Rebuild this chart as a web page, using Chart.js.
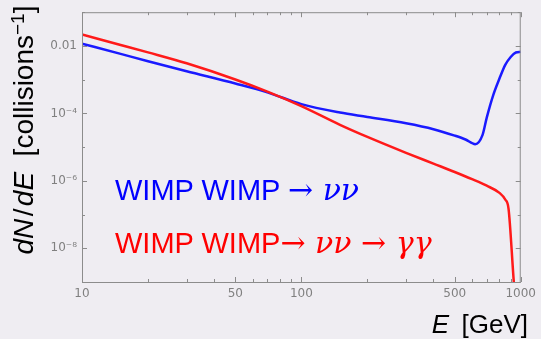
<!DOCTYPE html>
<html>
<head>
<meta charset="utf-8">
<script src="https://cdn.jsdelivr.net/npm/chart.js@4.4.0/dist/chart.umd.min.js"></script>
<style>
    html, body { margin: 0; padding: 0; background: #efedf2; }
    #wrap { position: relative; width: 541px; height: 339px; overflow: hidden; }
    #chart { position: absolute; left: 0; top: 0; }
    .txt { position: absolute; white-space: nowrap; font-family: "Liberation Sans", Arial, sans-serif; }
    .math { font-family: "DejaVu Serif", serif; font-size: 30px; }
    .math i { font-style: italic; }
    #ytitle {
        left: 24px; top: 130px; width: 300px; height: 40px; line-height: 40px;
        margin-left: -150px; margin-top: -20px; text-align: center;
        transform: rotate(-90deg); font-size: 28px; color: #000;
    }
    #ytitle sup { font-size: 19px; vertical-align: 0.5em; line-height: 0; }
    #xtitle { right: 13px; top: 307px; font-size: 26px; color: #000; line-height: 34px; }
    #lblBlue { left: 115px; top: 175px; font-size: 29px; line-height: 29px; color: #0000ff; }
    #lblRed { left: 115px; top: 228px; font-size: 29px; line-height: 29px; color: #ff0000; }
</style>
</head>
<body>
<div id="wrap">
    <canvas id="chart" width="541" height="339"></canvas>
    <div class="txt" id="ytitle"><i>dN</i>&#8202;/&#8202;<i>dE</i>&nbsp;&nbsp;[collisions<sup>−1</sup>]</div>
    <div class="txt" id="xtitle"><i>E</i>&nbsp;&#8201;[GeV]</div>
    <div class="txt" id="lblBlue">WIMP WIMP <span class="math">→ <i>νν</i></span></div>
    <div class="txt" id="lblRed">WIMP WIMP<span class="math">→ <i>νν</i> → <i>γγ</i></span></div>
</div>
<script>
// ===== Dados =====
const blueEnergies = [10, 15, 20, 30, 50, 70, 100, 150, 200, 300, 400, 500, 560, 620, 670, 700, 750, 800, 850, 900, 950, 1000];
const blueValues = [1.17e-2, 5.81e-3, 3.53e-3, 1.78e-3, 7.69e-4, 4.21e-4, 1.88e-4, 1.06e-4, 7.85e-5, 5.08e-5, 3.40e-5, 2.19e-5, 1.68e-5, 1.22e-5, 2.31e-5, 7.5e-5, 3.55e-4, 1.08e-3, 2.75e-3, 4.71e-3, 6.38e-3, 6.68e-3];

const redEnergies = [10, 15, 20, 30, 50, 70, 100, 150, 200, 300, 400, 500, 600, 700, 800, 850, 880, 930, 960];
const redValues = [2.18e-2, 1.07e-2, 6.43e-3, 3.05e-3, 1.01e-3, 4.41e-4, 1.64e-4, 4.59e-5, 2.01e-5, 6.78e-6, 3.24e-6, 1.83e-6, 1.12e-6, 7.15e-7, 4.38e-7, 2.79e-7, 1.48e-7, 1e-9, 9e-11];

// ===== Ticks =====
const xTicks = [10, 20, 30, 40, 50, 60, 70, 80, 90, 100, 200, 300, 400, 500, 600, 700, 800, 900, 1000];
const xLabels = [10, 50, 100, 500, 1000];
const yTicks = [1e-9, 1e-8, 1e-7, 1e-6, 1e-5, 1e-4, 1e-3, 1e-2, 1e-1];
const yLabels = { '-2': '0.01', '-4': '10⁻⁴', '-6': '10⁻⁶', '-8': '10⁻⁸' };

const BG = '#efedf2';
const FRAME = '#8c8c8c';

function toPoints(xs, ys) {
    return xs.map((x, i) => ({ x: x, y: ys[i] }));
}

// ===== Plugin: fundo, moldura e ticks para dentro =====
const framePlugin = {
    id: 'frame',
    beforeDraw(chart) {
        const ctx = chart.ctx;
        ctx.save();
        ctx.fillStyle = BG;
        ctx.fillRect(0, 0, chart.width, chart.height);
        ctx.restore();
    },
    afterDatasetsDraw(chart) {
        const { ctx, chartArea: a, scales } = chart;
        ctx.save();
        ctx.strokeStyle = FRAME;
        ctx.lineWidth = 1;
        ctx.strokeRect(a.left + 0.5, a.top + 0.5, a.right - a.left - 1, a.bottom - a.top);
        ctx.beginPath();
        xTicks.forEach(v => {
            const px = Math.round(scales.x.getPixelForValue(v)) + 0.5;
            const len = xLabels.includes(v) ? 5 : 3;
            ctx.moveTo(px, a.bottom); ctx.lineTo(px, a.bottom - len);
            ctx.moveTo(px, a.top); ctx.lineTo(px, a.top + len);
        });
        yTicks.forEach(v => {
            const py = Math.round(scales.y.getPixelForValue(v)) + 0.5;
            const e = Math.round(Math.log10(v));
            const len = yLabels[e] ? 5 : 3;
            ctx.moveTo(a.left, py); ctx.lineTo(a.left + len, py);
            ctx.moveTo(a.right, py); ctx.lineTo(a.right - len, py);
        });
        ctx.stroke();
        ctx.restore();
    }
};

// ===== Gerar Gráfico =====
const ctx = document.getElementById('chart').getContext('2d');
new Chart(ctx, {
    type: 'line',
    data: {
        datasets: [
            {
                data: toPoints(redEnergies, redValues),
                borderColor: '#ff1a1a',
                borderWidth: 2.5,
                pointRadius: 0,
                cubicInterpolationMode: 'monotone',
                fill: false
            },
            {
                data: toPoints(blueEnergies, blueValues),
                borderColor: '#1a1aff',
                borderWidth: 2.5,
                pointRadius: 0,
                cubicInterpolationMode: 'monotone',
                fill: false
            }
        ]
    },
    options: {
        responsive: false,
        animation: false,
        layout: { padding: { top: 8, right: 17, left: 0, bottom: 0 } },
        plugins: {
            legend: { display: false },
            tooltip: { enabled: false }
        },
        scales: {
            x: {
                type: 'logarithmic',
                min: 10,
                max: 1000,
                grid: { display: false, drawTicks: false },
                border: { display: false },
                afterBuildTicks: s => { s.ticks = xTicks.map(v => ({ value: v })); },
                afterFit: s => { s.height = 57; },
                ticks: {
                    autoSkip: false,
                    maxRotation: 0,
                    padding: 5,
                    color: '#808080',
                    font: { family: 'DejaVu Sans', size: 12 },
                    callback: v => xLabels.includes(v) ? String(v) : ''
                }
            },
            y: {
                type: 'logarithmic',
                min: 1e-9,
                max: 1e-1,
                grid: { display: false, drawTicks: false },
                border: { display: false },
                afterBuildTicks: s => { s.ticks = yTicks.map(v => ({ value: v })); },
                afterFit: s => { s.width = 82; },
                ticks: {
                    autoSkip: false,
                    padding: 5,
                    color: '#808080',
                    font: { family: 'DejaVu Sans', size: 12 },
                    callback: v => yLabels[Math.round(Math.log10(v))] || ''
                }
            }
        }
    },
    plugins: [framePlugin]
});
</script>
</body>
</html>
